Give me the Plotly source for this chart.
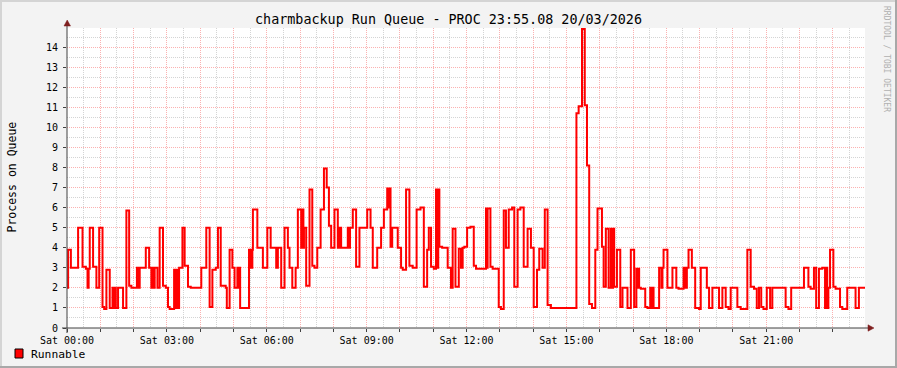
import plotly.graph_objects as go

# ---- data: run queue (step series), time in minutes after 00:00 ----
t_min = [
    0, 2, 7, 20, 28, 34, 37, 39, 41, 47, 53, 58, 64, 67, 71, 77, 82, 84, 86, 88,
    92, 101, 107, 112, 116, 126, 129, 131, 142, 148, 152, 154, 157, 158, 163, 167, 173, 178, 182, 185,
    193, 196, 199, 200, 202, 208, 212, 218, 223, 242, 251, 257, 262, 268, 272, 277, 286, 288, 293, 298,
    302, 307, 308, 310, 312, 328, 331, 334, 335, 343, 353, 361, 367, 377, 380, 386, 392, 398, 401, 406,
    412, 416, 422, 424, 426, 427, 431, 437, 442, 446, 451, 457, 463, 468, 472, 476, 482, 488, 491, 494,
    506, 508, 510, 515, 521, 527, 541, 547, 551, 559, 566, 571, 577, 580, 581, 583, 586, 596, 602, 605,
    611, 617, 623, 630, 637, 643, 649, 652, 656, 661, 665, 667, 669, 671, 676, 686, 692, 695, 700, 706,
    710, 713, 716, 721, 727, 733, 737, 755, 757, 758, 763, 767, 778, 782, 787, 791, 796, 802, 806, 812,
    817, 823, 830, 836, 841, 847, 851, 857, 861, 866, 872, 918, 922, 928, 933, 937, 941, 946, 952, 956,
    964, 967, 971, 976, 980, 982, 984, 986, 991, 997, 1001, 1010, 1016, 1022, 1026, 1029, 1030, 1031, 1034, 1042,
    1046, 1051, 1053, 1055, 1057, 1067, 1071, 1073, 1075, 1082, 1091, 1098, 1102, 1111, 1114, 1117, 1120, 1126, 1132, 1139,
    1142, 1153, 1157, 1163, 1175, 1181, 1187, 1192, 1196, 1208, 1214, 1226, 1232, 1238, 1243, 1247, 1251, 1255, 1261, 1267,
    1271, 1295, 1300, 1305, 1328, 1336, 1340, 1346, 1350, 1355, 1361, 1366, 1368, 1370, 1372, 1375, 1381, 1385, 1393, 1397,
    1406, 1421, 1427, 1438,
]
runnable = [
    2, 3.9, 3, 5, 3.05, 2.95, 2, 2.95, 5, 3.05, 2, 5, 1.05, 0.95, 2.9, 1, 2, 1, 2, 1,
    2, 1, 5.85, 2.1, 2, 3, 2, 3, 4, 3, 2, 3, 2, 3, 2, 5, 2.1, 2, 1.05, 0.95,
    2.9, 1, 2.9, 1, 3, 5, 3.1, 2.05, 2, 3, 5, 1.05, 2.9, 3, 5, 2.1, 2, 1, 3.9, 3,
    2, 3, 2, 3, 1, 3.9, 3, 3.9, 5.9, 4, 3, 5, 4, 3, 4, 2, 5, 4, 3, 2,
    3, 5.9, 4, 5.9, 4, 5, 2.1, 6.9, 3.1, 3, 4, 5.9, 7.95, 7, 5.1, 4, 5.9, 4, 5, 4,
    5, 4, 5, 5.9, 3.05, 5, 5.9, 5, 3, 4, 5, 5.9, 6.95, 6, 6.95, 4.05, 5, 4, 3, 2.9,
    6.9, 3.1, 3, 5.9, 6, 2.05, 3.9, 5, 3.05, 2.95, 6.9, 3, 6.9, 4.05, 4, 3, 2, 4.95, 2.05, 3.95,
    3, 4, 4.05, 5, 5.05, 3.1, 2.95, 5.95, 3, 5.95, 3.05, 2.95, 1.05, 0.95, 5.85, 4, 5.9, 6, 2.05, 5.9,
    6, 3.05, 4.95, 4, 1.05, 2.9, 3.95, 3, 5.9, 1.15, 1, 10.7, 11.05, 14.9, 11.1, 8.1, 1.2, 1, 3.9, 5.95,
    4.05, 2.05, 4.95, 2, 4.95, 2, 4.95, 2.05, 3.9, 1.05, 2, 1, 3.9, 1.05, 2.95, 2, 2.95, 2, 1.95, 1.05,
    1, 2, 1, 2, 1, 3, 2, 3, 3.9, 2, 3, 2, 1.95, 3, 2, 3, 3.9, 3, 1, 0.95,
    3, 2, 1, 2, 1, 2, 1.05, 0.95, 2, 1.05, 0.95, 3.9, 2.05, 1.95, 1, 2, 1.05, 0.95, 2, 1,
    2, 1.05, 0.95, 2, 3, 2.05, 1.95, 3, 1, 2.95, 3, 1, 3, 1, 2, 3.9, 2.05, 1.95, 1.05, 0.95,
    2, 1, 2, 2,
]
x_label_vals = [0, 180, 360, 540, 720, 900, 1080, 1260]
x_label_text = ["Sat 00:00", "Sat 03:00", "Sat 06:00", "Sat 09:00",
                "Sat 12:00", "Sat 15:00", "Sat 18:00", "Sat 21:00"]
y_ticks = list(range(0, 15))

TITLE = "charmbackup Run Queue - PROC 23:55.08 20/03/2026"
Y_TITLE = "Process on Queue"
SERIES_NAME = "Runnable"

# ---- layout geometry (pixels) ----
W, H = 897, 368
L, R, T, B = 67, 32, 28, 40
PW, PH = W - L - R, H - T - B
X_MAX = 1438
Y_MAX = 14.95
FONT = "DejaVu Sans Mono"


def px(xp):
    return (xp - L) / PW


def py(yp):
    return (H - B - yp) / PH


hour_vals = list(range(0, 1440, 60))
hour_text = [x_label_text[x_label_vals.index(v)] if v in x_label_vals else "" for v in hour_vals]
half_hours = list(range(30, 1440, 60))
half_units = [v + 0.5 for v in range(0, 15)]

MAJ = "rgba(245,70,70,0.42)"
MIN = "rgba(160,160,160,0.45)"
DOT = "1px,1px"

fig = go.Figure()
fig.add_trace(go.Scatter(
    x=t_min, y=runnable, mode="lines", name=SERIES_NAME,
    line=dict(color="#ff0000", width=2, shape="hv"),
    showlegend=False, hoverinfo="skip",
))

fig.update_layout(
    width=W, height=H,
    margin=dict(l=L, r=R, t=T, b=B, pad=0),
    paper_bgcolor="#f3f3f3", plot_bgcolor="#ffffff",
    font=dict(family=FONT, color="#000000"),
    title=dict(text=TITLE, x=0.5, xref="container", xanchor="center",
               y=1 - 19 / H, yref="container", yanchor="middle",
               font=dict(family=FONT, size=13.4, color="#000000")),
    xaxis=dict(
        range=[0, X_MAX], tickmode="array", tickvals=hour_vals, ticktext=hour_text,
        showgrid=True, gridcolor=MAJ, griddash=DOT, gridwidth=1,
        ticks="outside", ticklen=3, tickcolor="#404040", tickwidth=1,
        tickfont=dict(family=FONT, size=10, color="#000000"),
        showline=False, zeroline=False, fixedrange=True,
        minor=dict(tickmode="array", tickvals=half_hours, showgrid=True,
                   gridcolor=MIN, griddash=DOT, gridwidth=1, ticks=""),
    ),
    yaxis=dict(
        range=[0, Y_MAX], tickmode="array", tickvals=y_ticks, ticktext=[str(v) for v in y_ticks],
        showgrid=True, gridcolor=MAJ, griddash=DOT, gridwidth=1,
        ticks="outside", ticklen=3, tickcolor="#404040", tickwidth=1,
        ticklabelstandoff=3,
        tickfont=dict(family=FONT, size=10, color="#000000"),
        showline=False, zeroline=False, fixedrange=True,
        minor=dict(tickmode="array", tickvals=half_units, showgrid=True,
                   gridcolor=MIN, griddash=DOT, gridwidth=1, ticks=""),
    ),
    showlegend=False,
)

AX = "#404040"
ARROW = "#7f1f1f"
shapes = [
    dict(type="line", xref="paper", yref="paper", x0=px(67), x1=px(67), y0=py(333), y1=py(24),
         line=dict(color=AX, width=1)),
    dict(type="line", xref="paper", yref="paper", x0=px(62), x1=px(869), y0=py(328), y1=py(328),
         line=dict(color=AX, width=1)),
    dict(type="path", xref="paper", yref="paper",
         path=f"M {px(64)} {py(26)} L {px(70.5)} {py(26)} L {px(67.2)} {py(20)} Z",
         fillcolor=ARROW, line=dict(color=ARROW, width=0.5)),
    dict(type="path", xref="paper", yref="paper",
         path=f"M {px(868)} {py(324.8)} L {px(868)} {py(331.2)} L {px(874)} {py(328)} Z",
         fillcolor=ARROW, line=dict(color=ARROW, width=0.5)),
    dict(type="rect", xref="paper", yref="paper", x0=px(15), x1=px(23), y0=py(358), y1=py(349),
         fillcolor="#ff0000", line=dict(color="#000000", width=1)),
    dict(type="line", xref="paper", yref="paper", x0=px(0), x1=px(W), y0=py(1), y1=py(1),
         line=dict(color="#d4d4d4", width=2)),
    dict(type="line", xref="paper", yref="paper", x0=px(1), x1=px(1), y0=py(0), y1=py(H),
         line=dict(color="#d4d4d4", width=2)),
    dict(type="line", xref="paper", yref="paper", x0=px(0), x1=px(W), y0=py(H - 1), y1=py(H - 1),
         line=dict(color="#a8a8a8", width=2)),
    dict(type="line", xref="paper", yref="paper", x0=px(W - 1), x1=px(W - 1), y0=py(0), y1=py(H),
         line=dict(color="#a8a8a8", width=2)),
]
fig.update_layout(shapes=shapes)

annotations = [
    dict(text=Y_TITLE, xref="paper", yref="paper", x=px(11), y=py(177.5),
         xanchor="center", yanchor="middle", textangle=-90, showarrow=False,
         font=dict(family=FONT, size=11.5, color="#000000")),
    dict(text=SERIES_NAME, xref="paper", yref="paper", x=px(29), y=py(354),
         xanchor="left", yanchor="middle", showarrow=False,
         font=dict(family=FONT, size=11.3, color="#000000")),
    dict(text="RRDTOOL / TOBI OETIKER", xref="paper", yref="paper", x=px(887), y=py(59),
         xanchor="center", yanchor="middle", textangle=90, showarrow=False,
         font=dict(family=FONT, size=8, color="#b0b0b0")),
]
fig.update_layout(annotations=annotations)

fig.write_html("out.html")
